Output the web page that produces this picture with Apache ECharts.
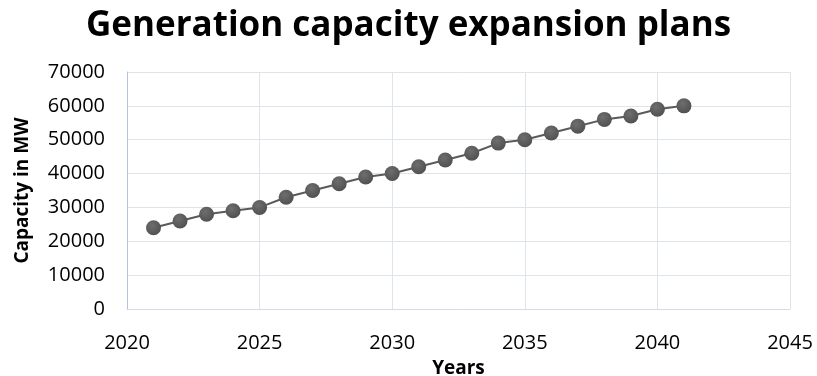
<!DOCTYPE html>
<html>
<head>
<meta charset="utf-8">
<script src="https://cdn.jsdelivr.net/npm/echarts@6/dist/echarts.min.js"></script>
<style>html,body{margin:0;padding:0;background:#fff}#c{width:817px;height:376px}</style>
</head>
<body>
<div id="c"></div>
<script>
const years = [2021,2022,2023,2024,2025,2026,2027,2028,2029,2030,2031,2032,2033,2034,2035,2036,2037,2038,2039,2040,2041];
const capacity = [24000,26000,28000,29000,30000,33000,35000,37000,39000,40000,42000,44000,46000,49000,50000,52000,54000,56000,57000,59000,60000];
const xTicks = [2020,2025,2030,2035,2040,2045];
const yTicks = [0,10000,20000,30000,40000,50000,60000,70000];

const chart = echarts.init(document.getElementById('c'));
const font = '"Open Sans", "Liberation Sans", sans-serif';
chart.setOption({
  animation: false,
  title: {
    text: 'Generation capacity expansion plans',
    left: 'center', top: 4,
    textStyle: { fontFamily: font, fontWeight: 'bold', fontSize: 35, color: '#000' }
  },
  grid: { left: 127, right: 27, top: 72, bottom: 67, containLabel: false, outerBoundsMode: 'none' },
  xAxis: {
    type: 'value', min: xTicks[0], max: xTicks[xTicks.length-1], interval: 5,
    name: 'Years', nameLocation: 'middle', nameGap: 50,
    nameTextStyle: { fontFamily: font, fontWeight: 'bold', fontSize: 19, color: '#000' },
    axisLine: { show: true, lineStyle: { color: '#d6dce6', width: 1 } },
    axisTick: { show: false },
    splitLine: { show: true, lineStyle: { color: '#dfe3ea', width: 1 } },
    axisLabel: { fontFamily: font, fontSize: 20, color: '#000', margin: 24, formatter: v => String(v) }
  },
  yAxis: {
    type: 'value', min: yTicks[0], max: yTicks[yTicks.length-1], interval: 10000,
    name: 'Capacity in MW', nameLocation: 'middle', nameGap: 95, nameRotate: 90,
    nameTextStyle: { fontFamily: font, fontWeight: 'bold', fontSize: 19, color: '#000' },
    axisLine: { show: true, lineStyle: { color: '#b4c4dc', width: 1 } },
    axisTick: { show: false },
    splitLine: { show: true, lineStyle: { color: '#dfe3ea', width: 1 } },
    axisLabel: { fontFamily: font, fontSize: 20, color: '#000', margin: 22, formatter: v => String(v) }
  },
  series: [{
    type: 'line',
    data: years.map((y, i) => [y, capacity[i]]),
    symbol: 'circle', symbolSize: 15,
    lineStyle: { color: '#5a5a5a', width: 2 },
    itemStyle: {
      color: new echarts.graphic.RadialGradient(0.4, 0.35, 0.7, [
        { offset: 0, color: '#6e6e6e' }, { offset: 1, color: '#4f4f4f' }
      ])
    }
  }]
});
</script>
</body>
</html>
